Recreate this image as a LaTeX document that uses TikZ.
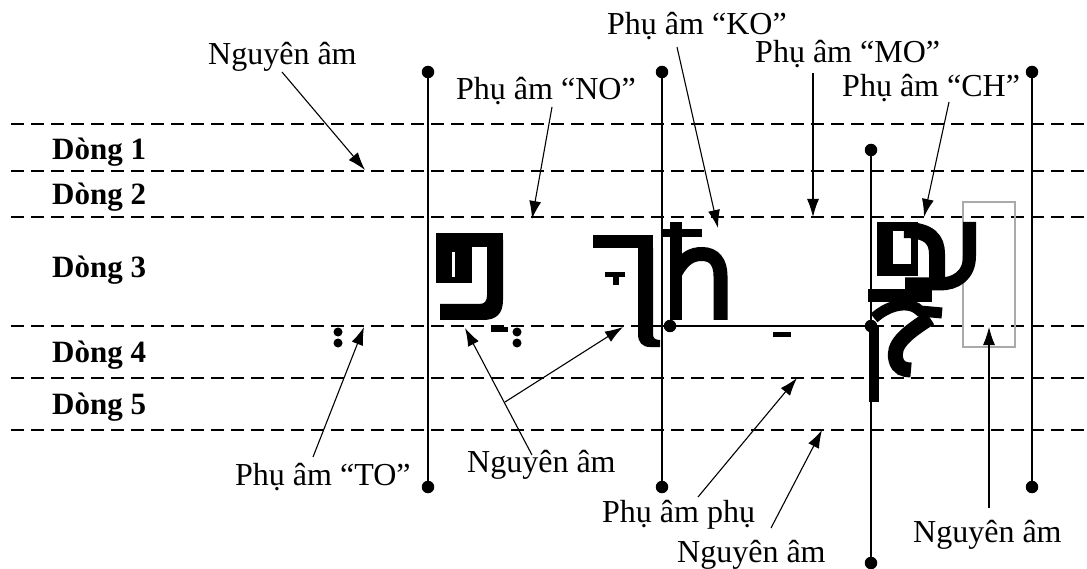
\documentclass[tikz,border=0pt]{standalone}
\usepackage{fontspec}
\setmainfont{Liberation Serif}
\usetikzlibrary{arrows.meta}
\definecolor{boxgray}{RGB}{170,170,170}
\tikzset{
  lbl/.style={font=\fontsize{32}{38}\selectfont, inner sep=0pt, anchor=base west},
  rowlbl/.style={font=\bfseries\fontsize{31}{37}\selectfont, inner sep=0pt, anchor=base west},
  guide/.style={line width=1.5pt, dash pattern=on 13.3pt off 6.7pt},
  pole/.style={line width=2.6pt},
  arr/.style={line width=1.1pt, -{Latex[length=18pt,width=12pt]}},
  enddot/.style={circle, fill=black, inner sep=0pt, minimum size=12.5pt},
}
\begin{document}
\begin{tikzpicture}[x=1pt,y=-1pt]
\useasboundingbox (0,0) rectangle (1087,569);
% guide lines
\foreach \yy in {124,171,217,326,378,430} {\draw[guide] (11,\yy) -- (1087,\yy);}
% row labels
\node[rowlbl] (r1) at (52,160) {Dòng 1};
\node[rowlbl] (r2) at (52,205) {Dòng 2};
\node[rowlbl] (r3) at (52,278) {Dòng 3};
\node[rowlbl] (r4) at (52,362) {Dòng 4};
\node[rowlbl] (r5) at (52,414) {Dòng 5};
% vertical poles
\node[enddot] (p1t) at (428,72) {}; \node[enddot] (p1b) at (428,487) {};
\node[enddot] (p2t) at (662,72) {}; \node[enddot] (p2b) at (662,487) {};
\node[enddot] (p3t) at (871,150) {}; \node[enddot] (p3b) at (871,563) {};
\node[enddot] (p4t) at (1032,72) {}; \node[enddot] (p4b) at (1032,487) {};
\node[enddot] (hl) at (670,326) {}; \node[enddot] (hr) at (871,326) {};
\draw[pole] (p1t.center) -- (p1b.center);
\draw[pole] (p2t.center) -- (p2b.center);
\draw[pole] (p3t.center) -- (p3b.center);
\draw[pole] (p4t.center) -- (p4b.center);
\draw[pole] (hl.center) -- (hr.center);
% gray box
\draw[boxgray, line width=2.6pt] (963,202) rectangle (1015,347);
% ---- glyph A
\fill (436,233) rectangle (503,247);
\fill (436,247) rectangle (472,283);
\fill[white] (452,252) rectangle (455,277);
\fill (487,240) -- (503,240) -- (503,300) .. controls (503,314) and (496,320) .. (483,320) -- (440,320) -- (440,304) -- (479,304) .. controls (485,304) and (487,301) .. (487,295) -- cycle;
% dots and bar near Dong 4
\fill (491,327) rectangle (508,332);
\fill (517,332) circle (4.5); \fill (517,343) circle (4.5);
\fill (338,332) circle (4.5); \fill (338,343) circle (4.5);
% ---- glyph B
\fill (593,235) rectangle (653,248);
\fill (638,248) -- (653,248) -- (653,334) .. controls (653,338) and (655,340) .. (660,340) -- (660,347) -- (650,347) .. controls (642,347) and (638,342) .. (638,334) -- cycle;
\fill (605,272) rectangle (625,277);
\fill (613,277) rectangle (619,285);
% ---- glyph C
\fill (670,222) rectangle (682,320);
\fill (662,229) rectangle (702,237);
\draw[line width=14pt] (676,272) .. controls (684,258) and (692,254) .. (702,254) .. controls (714,254) and (720.5,262) .. (720.5,276) -- (720.5,320);
% small bar
\fill (773,332) rectangle (791,337);
% ---- glyph D
\fill (877,222) rectangle (918,276);
\fill[white] (893,231) rectangle (911,264);
\draw[line width=16pt] (904,230) .. controls (930,230) and (937,240) .. (937,254) -- (937,278);
\draw[line width=13pt] (969.5,222) -- (969.5,256) .. controls (969.5,276) and (955,284) .. (940,284) -- (905,284);
\fill (868,289) rectangle (932,302);
\draw[line width=11pt] (874,318) .. controls (892,302) and (912,302) .. (920,311) -- (942,313);
\draw[line width=15pt] (930,318) .. controls (905,334) and (892,345) .. (896,360) .. controls (898,368) and (904,370) .. (911,370);
\fill (869,327) rectangle (879,402);
% ---- labels and arrows
\node[lbl] (nv1) at (208,65) {Nguyên âm};
\coordinate (nv1s) at (282,72); \coordinate (nv1t) at (365,170);
\draw[arr] (nv1s) -- (nv1t);
\node[lbl] (no) at (456,100) {Phụ âm “NO”};
\coordinate (nos) at (552,107); \coordinate (not) at (532,219);
\draw[arr] (nos) -- (not);
\node[lbl] (ko) at (607,35) {Phụ âm “KO”};
\coordinate (kos) at (677,47); \coordinate (kot) at (718,228);
\draw[arr] (kos) -- (kot);
\node[lbl] (mo) at (755,63) {Phụ âm “MO”};
\coordinate (mos) at (813,73); \coordinate (mot) at (813,217);
\draw[arr] (mos) -- (mot);
\node[lbl] (ch) at (842,97) {Phụ âm “CH”};
\coordinate (chs) at (949,102); \coordinate (cht) at (924,217);
\draw[arr] (chs) -- (cht);
\node[lbl] (to) at (235,485) {Phụ âm “TO”};
\coordinate (tos) at (313,457); \coordinate (tot) at (364,327);
\draw[arr] (tos) -- (tot);
\node[lbl] (nv2) at (467,472) {Nguyên âm};
\coordinate (nv2s) at (532,455); \coordinate (nv2j) at (505,402);
\coordinate (nv2a) at (465,328); \coordinate (nv2b) at (623,327);
\draw[arr] (nv2s) -- (nv2a);
\draw[arr] (nv2j) -- (nv2b);
\node[lbl] (pp) at (602,522) {Phụ âm phụ};
\coordinate (pps) at (698,497); \coordinate (ppt) at (797,378);
\draw[arr] (pps) -- (ppt);
\node[lbl] (nv3) at (677,562) {Nguyên âm};
\coordinate (nv3s) at (771,528); \coordinate (nv3t) at (822,430);
\draw[arr] (nv3s) -- (nv3t);
\node[lbl] (nv4) at (913,542) {Nguyên âm};
\coordinate (nv4s) at (989,508); \coordinate (nv4t) at (989,327);
\draw[arr] (nv4s) -- (nv4t);
\end{tikzpicture}
\end{document}
